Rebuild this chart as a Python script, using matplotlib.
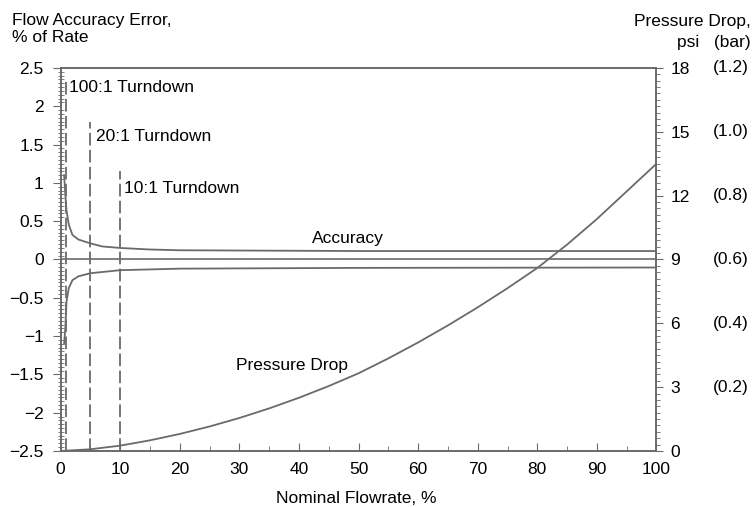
import numpy as np
import matplotlib.pyplot as plt
from matplotlib.ticker import MultipleLocator

plt.rcParams['font.family'] = ['Liberation Sans', 'DejaVu Sans']

# accuracy envelope, % of rate
acc_up_x = [0.6, 0.8, 1.0, 1.4, 2, 3, 5, 7, 10, 15, 20, 50, 100]
acc_up_y = [1.1, 0.85, 0.64, 0.45, 0.32, 0.26, 0.21, 0.17, 0.15, 0.13, 0.12, 0.11, 0.11]
acc_lo_x = [0.6, 0.8, 1.0, 1.4, 2, 3, 5, 10, 20, 50, 100]
acc_lo_y = [-1.1, -0.9, -0.55, -0.37, -0.27, -0.22, -0.18, -0.14, -0.12, -0.11, -0.105]

# pressure drop, psi
pd_x = [0, 5, 10, 15, 20, 25, 30, 35, 40, 45, 50, 55, 60, 65, 70, 75, 80, 85, 90, 95, 100]
pd_y = [0, 0.08, 0.25, 0.5, 0.8, 1.15, 1.55, 2.0, 2.5, 3.05, 3.65, 4.35, 5.1, 5.9, 6.75, 7.65, 8.6, 9.7, 10.9, 12.2, 13.5]

turn_x = [1, 5, 10]
turn_top = [2.35, 1.8, 1.15]
turn_lbl = ["100:1 Turndown", "20:1 Turndown", "10:1 Turndown"]
turn_lbl_pos = [(1.4, 2.24), (5.9, 1.61), (10.6, 0.93)]

psi_ticks = [0, 3, 6, 9, 12, 15, 18]
bar_lbls = ["", "(0.2)", "(0.4)", "(0.6)", "(0.8)", "(1.0)", "(1.2)"]

col = '#6a6a6a'
fs = 12.5

fig = plt.figure(figsize=(7.52, 5.07), dpi=100)
ax = fig.add_axes([0.0805, 0.1105, 0.7925, 0.7555])
ax2 = ax.twinx()

ax.plot(acc_up_x, acc_up_y, color=col, lw=1.3)
ax.plot(acc_lo_x, acc_lo_y, color=col, lw=1.3)
ax.axhline(0, color=col, lw=1.2)
for x, top in zip(turn_x, turn_top):
    ax.plot([x, x], [-2.5, top], color=col, lw=1.3, ls=(0, (7, 2.4)))
for t, (x, y) in zip(turn_lbl, turn_lbl_pos):
    ax.text(x, y, t, fontsize=fs, va='center', ha='left')
ax.text(48.2, 0.28, "Accuracy", fontsize=fs, ha='center', va='center')
ax.text(38.8, -1.39, "Pressure Drop", fontsize=fs, ha='center', va='center')

ax2.plot(pd_x, pd_y, color=col, lw=1.3)

ax.set_xlim(0, 100)
ax.set_ylim(-2.5, 2.5)
ax2.set_ylim(0, 18)

ax.set_xticks(range(0, 101, 10))
ax.xaxis.set_minor_locator(MultipleLocator(5))
ax.set_yticks([-2.5, -2, -1.5, -1, -0.5, 0, 0.5, 1, 1.5, 2, 2.5])
ax.set_yticklabels(['\u22122.5', '\u22122', '\u22121.5', '\u22121', '\u22120.5', '0',
                    '0.5', '1', '1.5', '2', '2.5'])
ax.yaxis.set_minor_locator(MultipleLocator(0.05))
ax2.set_yticks(psi_ticks)
ax2.yaxis.set_minor_locator(MultipleLocator(0.3))

ax.tick_params(axis='x', which='major', direction='in', length=6, color=col, labelsize=fs, pad=8)
ax.tick_params(axis='x', which='minor', direction='in', length=3.5, color=col)
ax.tick_params(axis='y', which='major', direction='out', length=6, color=col, labelsize=fs, pad=6)
ax.tick_params(axis='y', which='minor', direction='inout', length=4, color=col)
ax2.tick_params(axis='y', which='major', direction='out', length=5, color=col, labelsize=fs, pad=5)
ax2.tick_params(axis='y', which='minor', direction='out', length=3, color=col)
for lab in ax2.get_yticklabels():
    lab.set_horizontalalignment('left')

for a in (ax, ax2):
    for s in a.spines.values():
        s.set_color(col)
        s.set_linewidth(1.2)

for p, b in zip(psi_ticks, bar_lbls):
    ax2.text(1.125, p, b, transform=ax2.get_yaxis_transform(), fontsize=fs,
             ha='center', va='center')

fig.text(0.016, 0.975, "Flow Accuracy Error,\n% of Rate", fontsize=fs, ha='left', va='top',
         linespacing=1.2)
fig.text(0.998, 0.972, "Pressure Drop,", fontsize=fs, ha='right', va='top')
fig.text(0.998, 0.93, "psi   (bar)", fontsize=fs, ha='right', va='top')
fig.text(0.474, 0.016, "Nominal Flowrate, %", fontsize=fs, ha='center', va='center')

fig.savefig("out.png", dpi=100)
